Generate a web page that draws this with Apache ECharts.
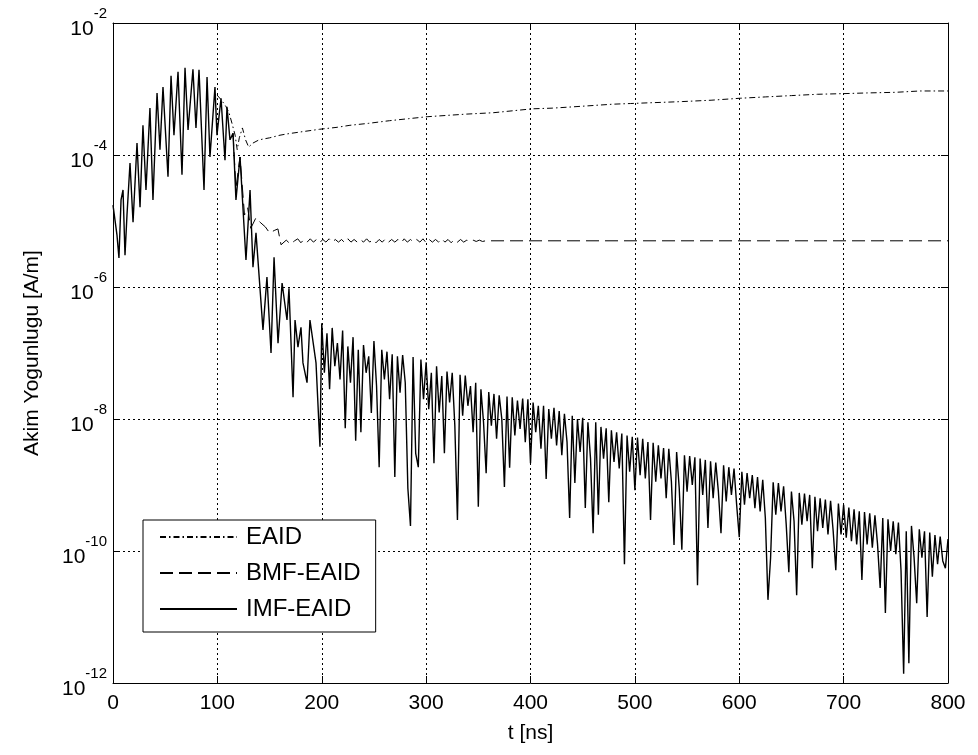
<!DOCTYPE html>
<html>
<head>
<meta charset="utf-8">
<script src="https://cdn.jsdelivr.net/npm/echarts@6/dist/echarts.min.js"></script>
<style>html,body{margin:0;padding:0;background:#fff;}#c{width:978px;height:755px;}</style>
</head>
<body>
<div id="c"></div>
<script>
// Values are log10 of current density [A/m]
const xTicks = [0, 100, 200, 300, 400, 500, 600, 700, 800];
const yTickExponents = [-12, -10, -8, -6, -4, -2];

// IMF-EAID, early part (explicit sample times, ns)
const imfEarlyT = [0,1.9,3.8,5.7,7.7,9.6,11.5,13.4,16.3,19.2,23.0,25.9,28.7,31.6,35.4,38.3,42.2,45.0,47.9,52.7,55.6,58.4,62.3,66.1,69.0,71.9,76.6,79.5,82.4,87.2,90.1,92.9,97.7,99.6,103.5,107.3,109.2,112.1,115.0,117.8,121.7,127.4,131.3,134.1,137.0,143.7,147.5,151.4,154.3,158.1,162.0,166.7,168.6,172.5,174.4,177.2,180.1,182.0,185.9,188.7,194.5,198.3];
const imfEarlyV = [-4.76,-4.79,-5.21,-5.56,-4.68,-4.53,-5.52,-4.91,-4.12,-5.02,-3.82,-4.79,-3.55,-4.53,-3.29,-4.68,-3.06,-3.92,-2.97,-4.33,-2.80,-3.70,-2.74,-4.30,-2.68,-3.62,-2.70,-3.59,-2.71,-4.53,-2.82,-4.03,-2.97,-3.70,-3.14,-4.08,-3.27,-3.77,-3.67,-4.68,-4.03,-5.59,-4.53,-5.70,-5.18,-6.65,-5.85,-7.00,-5.55,-6.85,-5.94,-6.50,-6.02,-7.67,-6.50,-6.91,-6.61,-7.15,-7.45,-6.50,-7.15,-8.42];

// IMF-EAID, late part: samples every 2.5 ns from 200 ns to 800 ns
const imfLateStart = 200;
const imfLateStep = 2.5;
const imfLateV = [
-6.55,-7.30,-6.70,-7.55,-6.62,-7.20,-6.85,-7.40,-6.66,-8.14,
-6.90,-7.45,-6.76,-8.33,-6.95,-8.20,-6.88,-7.30,-7.05,-7.91,
-6.82,-7.50,-8.73,-6.95,-7.40,-6.98,-7.70,-7.02,-8.88,-7.05,
-7.60,-7.03,-7.45,-9.05,-9.62,-7.06,-8.52,-8.73,-7.10,-7.70,
-7.14,-7.85,-7.30,-8.67,-7.20,-7.90,-7.35,-8.52,-7.28,-7.75,
-7.30,-8.10,-9.53,-7.33,-7.95,-7.34,-7.80,-7.50,-8.20,-7.45,
-9.33,-7.55,-8.05,-8.82,-7.59,-8.10,-7.62,-8.30,-7.64,-8.00,
-9.03,-7.66,-8.74,-7.67,-8.25,-7.72,-8.15,-7.69,-8.35,-7.70,
-8.67,-7.75,-8.20,-7.80,-8.45,-7.80,-8.91,-7.85,-8.30,-7.83,
-8.40,-7.88,-8.55,-7.92,-8.35,-9.50,-7.95,-8.97,-8.00,-8.50,
-7.98,-9.35,-8.05,-8.60,-9.73,-8.05,-9.45,-8.12,-8.60,-8.14,
-9.26,-8.17,-8.65,-8.20,-8.75,-8.22,-10.20,-8.25,-8.80,-8.27,
-9.08,-8.28,-8.85,-8.30,-8.90,-8.35,-9.53,-8.36,-8.95,-8.40,
-8.90,-8.44,-9.20,-8.45,-8.95,-9.91,-8.50,-9.05,-9.98,-8.55,
-9.10,-8.56,-9.00,-8.58,-10.52,-8.60,-9.15,-8.62,-9.65,-8.64,
-9.20,-8.66,-9.10,-9.73,-8.70,-9.25,-8.73,-9.15,-8.75,-9.30,
-9.79,-8.80,-9.30,-8.82,-9.20,-8.85,-9.35,-8.88,-9.40,-8.92,
-9.50,-10.74,-10.11,-8.96,-9.45,-8.97,-9.40,-9.02,-9.60,-10.32,
-9.10,-9.55,-10.67,-9.12,-9.60,-9.13,-9.55,-9.15,-10.26,-9.18,
-9.70,-9.20,-9.65,-9.22,-9.75,-9.24,-9.70,-10.29,-9.28,-9.75,
-9.30,-9.80,-9.34,-9.85,-9.37,-9.90,-9.40,-10.44,-9.41,-9.90,
-9.43,-9.95,-9.46,-9.90,-10.56,-9.50,-10.94,-9.52,-10.00,-9.55,
-10.05,-9.57,-10.30,-11.86,-9.70,-11.70,-9.62,-10.10,-10.79,-9.67,
-10.10,-9.70,-11.00,-9.72,-10.39,-9.76,-10.20,-9.78,-10.15,-10.26,
-9.82
];

// BMF-EAID
const bmfHeadT = [115.0,117.8,121.7,126,129,132,137,141,146,150,155,158,161,166,170,174];
const bmfHeadV = [-3.67,-4.50,-4.03,-4.91,-4.80,-5.11,-4.95,-5.02,-5.09,-5.18,-5.14,-5.12,-5.36,-5.29,-5.35,-5.30];
const bmfWaveStart = 177;
const bmfWaveStep = 3;
const bmfWaveV = [
-5.27,-5.33,-5.28,-5.32,-5.27,-5.32,-5.28,-5.33,-5.28,-5.32,
-5.27,-5.32,-5.28,-5.32,-5.28,-5.33,-5.27,-5.32,-5.28,-5.32,
-5.28,-5.32,-5.27,-5.32,-5.28,-5.33,-5.28,-5.32,-5.27,-5.32,
-5.28,-5.32,-5.28,-5.33,-5.27,-5.32,-5.28,-5.32,-5.28,-5.32,
-5.27,-5.33,-5.28,-5.32,-5.28,-5.32,-5.27,-5.32,-5.28,-5.33,
-5.28,-5.32,-5.28,-5.32,-5.29,-5.31,-5.29,-5.31,-5.29,-5.31,
-5.30,-5.30];
const bmfTailT = [366, 800];
const bmfTailV = [-5.30, -5.30];

// EAID
const eaidT = [99.6,104,108,111,114,117,119,121,124,127,130,134,140,150,160,167,180,198,215,227,245,265,283,301,320,339,364,383,402,421,441,460,479,496,512,530,546,573,601,625,650,675,700,722,750,773,800];
const eaidV = [-3.09,-3.17,-3.26,-3.35,-3.52,-3.70,-3.92,-3.74,-3.59,-3.77,-3.88,-3.82,-3.77,-3.74,-3.70,-3.68,-3.65,-3.61,-3.58,-3.55,-3.52,-3.48,-3.45,-3.42,-3.40,-3.38,-3.36,-3.33,-3.30,-3.29,-3.27,-3.25,-3.23,-3.22,-3.21,-3.20,-3.19,-3.17,-3.14,-3.12,-3.10,-3.08,-3.07,-3.06,-3.05,-3.03,-3.03];

const seriesNames = ['EAID', 'BMF-EAID', 'IMF-EAID'];
const xLabel = 't [ns]';
const yLabel = 'Akim Yogunlugu [A/m]';

// ---- build data pairs ----
const zip = (t, v) => t.map((x, i) => [x, v[i]]);
const imfData = zip(imfEarlyT, imfEarlyV).concat(imfLateV.map((v, i) => [imfLateStart + i * imfLateStep, v]));
const bmfData = zip(bmfHeadT, bmfHeadV)
  .concat(bmfWaveV.map((v, i) => [bmfWaveStart + i * bmfWaveStep, v]))
  .concat(zip(bmfTailT, bmfTailV));
const eaidData = zip(eaidT, eaidV);

const FONT = '"Liberation Sans", Arial, Helvetica, sans-serif';
const black = '#000';

const chart = echarts.init(document.getElementById('c'), null, {renderer: 'canvas'});
const axisCommonX = {
  type: 'value', min: xTicks[0], max: xTicks[xTicks.length - 1], interval: 100,
  axisLine: {show: true, onZero: false, lineStyle: {color: black, width: 1}},
  axisTick: {show: true, inside: true, length: 7, lineStyle: {color: black, width: 1}}
};
const axisCommonY = {
  type: 'value', min: yTickExponents[0], max: yTickExponents[yTickExponents.length - 1], interval: 2,
  axisLine: {show: true, onZero: false, lineStyle: {color: black, width: 1}},
  axisTick: {show: true, inside: true, length: 7, lineStyle: {color: black, width: 1}}
};

chart.setOption({
  animation: false,
  backgroundColor: '#ffffff',
  grid: {left: 113, top: 23, width: 835, height: 660, containLabel: false},
  xAxis: [
    Object.assign({}, axisCommonX, {
      position: 'bottom',
      axisLabel: {color: black, fontSize: 21, fontFamily: FONT, margin: 10},
      splitLine: {show: true, lineStyle: {color: black, width: 1, type: [2, 3]}},
      name: xLabel, nameLocation: 'middle', nameGap: 40,
      nameTextStyle: {color: black, fontSize: 21, fontFamily: FONT}
    }),
    Object.assign({}, axisCommonX, {
      position: 'top', axisLabel: {show: false}, splitLine: {show: false}
    })
  ],
  yAxis: [
    Object.assign({}, axisCommonY, {
      position: 'left',
      axisLabel: {
        margin: 6,
        formatter: v => '{b|10}{s|' + v + '}',
        rich: {
          b: {fontSize: 21, fontFamily: FONT, color: black, lineHeight: 34, verticalAlign: 'bottom'},
          s: {fontSize: 15, fontFamily: FONT, color: black, lineHeight: 16, verticalAlign: 'top'}
        }
      },
      splitLine: {show: true, lineStyle: {color: black, width: 1, type: [2, 3]}},
      name: yLabel, nameLocation: 'middle', nameGap: 70, nameRotate: 90,
      nameTextStyle: {color: black, fontSize: 21, fontFamily: FONT}
    }),
    Object.assign({}, axisCommonY, {
      position: 'right', axisLabel: {show: false}, splitLine: {show: false}
    })
  ],
  legend: {
    show: true,
    data: seriesNames,
    orient: 'vertical',
    left: 143, top: 520,
    backgroundColor: '#fff',
    borderColor: black, borderWidth: 1, borderRadius: 0,
    padding: [5, 15, 11, 16],
    itemWidth: 77, itemHeight: 24, itemGap: 12,
    itemStyle: {color: 'rgba(0,0,0,0)', borderColor: 'rgba(0,0,0,0)', borderWidth: 0},
    textStyle: {color: black, fontSize: 24, fontFamily: FONT, padding: [0, 0, 0, 4]}
  },
  series: [
    {
      name: seriesNames[0], type: 'line', data: eaidData, symbol: 'none', z: 2,
      lineStyle: {color: black, width: 1, type: [6, 3, 1.5, 3]}
    },
    {
      name: seriesNames[1], type: 'line', data: bmfData, symbol: 'none', z: 3,
      lineStyle: {color: black, width: 1, type: [13, 6]}
    },
    {
      name: seriesNames[2], type: 'line', data: imfData, symbol: 'none', z: 4,
      lineStyle: {color: black, width: 1.4}
    }
  ]
});
</script>
</body>
</html>
